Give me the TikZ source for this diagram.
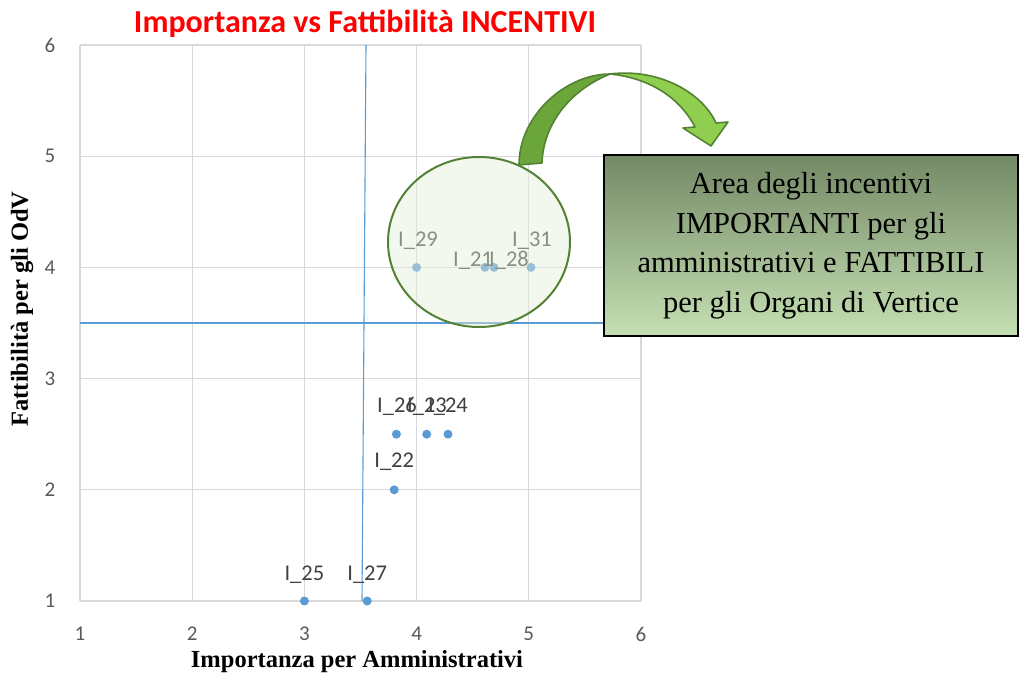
\documentclass[tikz,border=0pt]{standalone}
\usepackage{fontspec}
\setmainfont{Liberation Serif}
\newfontfamily\calib{Carlito}
\usetikzlibrary{shapes.geometric}
\definecolor{gridc}{HTML}{D9D9D9}
\definecolor{bluec}{HTML}{5B9BD5}
\definecolor{tickc}{HTML}{595959}
\definecolor{labc}{HTML}{404040}
\definecolor{circfill}{HTML}{E2EFD9}
\definecolor{circdraw}{HTML}{548235}
\definecolor{arrdark}{HTML}{6AA63A}
\definecolor{arrlight}{HTML}{8FCE4E}
\definecolor{boxdark}{HTML}{748966}
\definecolor{boxlight}{HTML}{C5E0B3}
\definecolor{titlered}{HTML}{FF0000}
\begin{document}
\begin{tikzpicture}[x=1pt,y=-1pt,
  gridline/.style={draw=gridc,line width=1.3pt},
  refline/.style={draw=bluec,line width=1.1pt},
  tick/.style={text=tickc,font=\calib\fontsize{21}{21}\selectfont,inner sep=0pt},
  pt/.style={circle,fill=bluec,inner sep=0pt,minimum size=9pt},
  ptlab/.style={text=labc,font=\calib\fontsize{22.5}{22.5}\selectfont,inner sep=0pt,anchor=base},
  axlab/.style={font=\bfseries\fontsize{24.5}{24.5}\selectfont,inner sep=0pt},
  areabox/.style={draw=black,line width=2pt,shading angle=45,top color=boxdark,bottom color=boxlight,
    minimum width=414pt,minimum height=181pt,align=center,inner sep=0pt,
    font=\fontsize{30.5}{39.5}\selectfont},
  arrowpart/.style={draw=circdraw,line width=1.6pt,line join=round}
]
\useasboundingbox (0,0) rectangle (1020,674);
% grid
\foreach \gx in {80,192.2,304.4,416.6,528.8,641} \draw[gridline] (\gx,45) -- (\gx,601);
\foreach \gy in {45,156.2,267.4,378.6,489.8,601} \draw[gridline] (80,\gy) -- (641,\gy);
% ticks
\foreach \v/\gx in {1/80,2/192.2,3/304.4,4/416.6,5/528.8,6/641}
  \node[tick] (xt\v) at (\gx,634) {\v};
\foreach \v/\gy in {1/601,2/489.8,3/378.6,4/267.4,5/156.2,6/45}
  \node[tick] (yt\v) at (50,\gy) {\v};
% reference lines
\draw[refline] (366,45) -- (362,601);
\draw[refline] (80,323) -- (641,323);
% points
\node[pt] (p29) at (416.6,267.4) {};
\node[pt] (p21) at (485.0,267.4) {};
\node[pt] (p28) at (494.0,267.4) {};
\node[pt] (p31) at (531.0,267.4) {};
\node[pt] (p26) at (396.4,434.2) {};
\node[pt] (p23) at (426.7,434.2) {};
\node[pt] (p24) at (448.0,434.2) {};
\node[pt] (p22) at (394.2,489.8) {};
\node[pt] (p25) at (304.4,601) {};
\node[pt] (p27) at (367.2,601) {};
% point labels
\node[ptlab] (l29) at (418,246) {I\_29};
\node[ptlab] (l21) at (473,266) {I\_21};
\node[ptlab] (l28) at (509,266) {I\_28};
\node[ptlab] (l31) at (532,246) {I\_31};
\node[ptlab] (l26) at (397,412) {I\_26};
\node[ptlab] (l23) at (427,412) {I\_23};
\node[ptlab] (l24) at (448,412) {I\_24};
\node[ptlab] (l22) at (394.2,467) {I\_22};
\node[ptlab] (l25) at (304.4,580) {I\_25};
\node[ptlab] (l27) at (367.2,580) {I\_27};
% highlighted area
\node[ellipse,draw=circdraw,line width=2pt,fill=circfill,fill opacity=0.45,
  minimum width=182pt,minimum height=170pt,inner sep=0pt] (area) at (479,242) {};
% curved arrow
\path[arrowpart,fill=arrdark] (519,165) -- (542,163)
  .. controls (543,128) and (566,92) .. (610,74)
  .. controls (566,74) and (519,115) .. (519,165) -- cycle;
\path[arrowpart,fill=arrlight] (610,74)
  .. controls (658,68) and (702,92) .. (716,123)
  -- (728,122) -- (711,146) -- (683,128) -- (695,127)
  .. controls (680,98) and (650,78) .. (610,74) -- cycle;
% text box
\node[areabox] (box) at (811,245.5) {Area degli incentivi\\IMPORTANTI per gli\\amministrativi e FATTIBILI\\per gli Organi di Vertice};
% title and axis labels
\node[text=titlered,font=\calib\bfseries\fontsize{32}{32}\selectfont,inner sep=0pt,anchor=base] (title) at (365,33) {Importanza vs Fattibilità INCENTIVI};
\node[axlab,anchor=base] (xlab) at (357,667) {Importanza per Amministrativi};
\node[axlab,rotate=90] (ylab) at (22,309) {Fattibilità per gli OdV};
\end{tikzpicture}
\end{document}
